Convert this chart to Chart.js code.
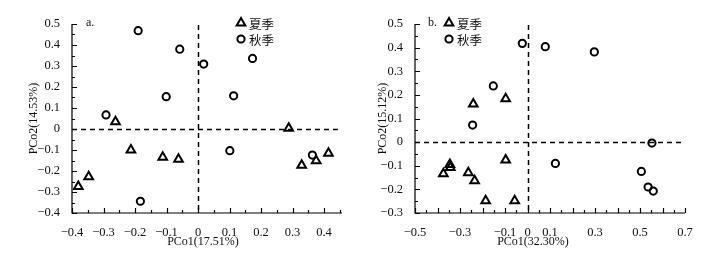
<!DOCTYPE html>
<html>
<head>
<meta charset="utf-8">
<script src="https://cdn.jsdelivr.net/npm/chart.js@4.4.0/dist/chart.umd.min.js"></script>
<style>
  body { margin: 0; background: #fff; }
  #wrap { position: relative; width: 727px; height: 266px; }
  canvas { position: absolute; top: 0; }
</style>
</head>
<body>
<div id="wrap">
  <canvas id="chartA" width="363" height="266" style="left:0"></canvas>
  <canvas id="chartB" width="364" height="266" style="left:363px"></canvas>
</div>
<script>
// series names (legend)
const seriesNames = ['夏季', '秋季'];

// panel a: PCo1(17.51%) vs PCo2(14.53%)
const aSummerX = [-0.380, -0.347, -0.262, -0.213, -0.112, -0.062, 0.288, 0.329, 0.375, 0.414];
const aSummerY = [-0.274, -0.227, 0.035, -0.100, -0.135, -0.144, 0.003, -0.173, -0.151, -0.116];
const aAutumnX = [-0.292, -0.190, -0.183, -0.101, -0.058, 0.018, 0.101, 0.113, 0.173, 0.363];
const aAutumnY = [0.067, 0.468, -0.344, 0.154, 0.380, 0.309, -0.103, 0.158, 0.336, -0.124];
const aTicksX = [-0.4, -0.3, -0.2, -0.1, 0, 0.1, 0.2, 0.3, 0.4];
const aTicksY = [-0.4, -0.3, -0.2, -0.1, 0, 0.1, 0.2, 0.3, 0.4, 0.5];

// panel b: PCo1(32.30%) vs PCo2(15.12%)
const bSummerX = [-0.374, -0.345, -0.343, -0.263, -0.241, -0.235, -0.186, -0.097, -0.097, -0.057];
const bSummerY = [-0.134, -0.095, -0.107, -0.130, 0.161, -0.163, -0.248, 0.184, -0.076, -0.248];
const bAutumnX = [-0.244, -0.152, -0.023, 0.079, 0.124, 0.297, 0.506, 0.536, 0.553, 0.559];
const bAutumnY = [0.072, 0.238, 0.418, 0.404, -0.090, 0.382, -0.124, -0.190, -0.004, -0.207];
const bTicksX = [-0.5, -0.3, -0.1, 0, 0.1, 0.3, 0.5, 0.7];
const bTicksY = [-0.3, -0.2, -0.1, 0, 0.1, 0.2, 0.3, 0.4, 0.5];

const serif = 'Liberation Serif, "Times New Roman", serif';

function fmt(v) {
    if (Math.abs(v) < 1e-9) return '0';
    return (v < 0 ? '\u2212' : '') + Math.abs(v).toFixed(1);
}

function toPoints(xs, ys) {
    return xs.map((x, i) => ({ x: x, y: ys[i] }));
}

// draws the inward ticks, axes, dashed zero lines, titles and legend
const panelDeco = {
    id: 'panelDeco',
    beforeDatasetsDraw(chart, args, o) {
        const { ctx, chartArea: a, scales: { x, y } } = chart;
        const x0 = Math.round(x.getPixelForValue(0)) + 0.5;
        const y0 = Math.round(y.getPixelForValue(0)) + 0.5;
        ctx.save();
        ctx.strokeStyle = '#000';
        ctx.lineWidth = 1.5;
        ctx.setLineDash([5, 4]);
        ctx.beginPath();
        ctx.moveTo(x0, a.top + 1);
        ctx.lineTo(x0, a.bottom);
        ctx.moveTo(a.left, y0);
        ctx.lineTo(a.right, y0);
        ctx.stroke();
        ctx.restore();
    },
    afterDraw(chart, args, o) {
        const { ctx, chartArea: a, scales: { x, y } } = chart;
        ctx.save();
        ctx.strokeStyle = '#000';
        ctx.lineWidth = 1.2;
        ctx.beginPath();
        ctx.moveTo(a.left, a.top);
        ctx.lineTo(a.left, a.bottom);
        ctx.lineTo(a.right, a.bottom);

        // major ticks every 0.1, minor every 0.05
        for (let k = Math.ceil(x.min * 20 - 1e-6); k <= x.max * 20 + 1e-6; k++) {
            const px = Math.round(x.getPixelForValue(k / 20)) + 0.5;
            const len = k % 2 === 0 ? 5 : 3;
            ctx.moveTo(px, a.bottom);
            ctx.lineTo(px, a.bottom - len);
        }
        for (let k = Math.ceil(y.min * 20 - 1e-6); k <= y.max * 20 + 1e-6; k++) {
            const py = Math.round(y.getPixelForValue(k / 20)) + 0.5;
            const len = k % 2 === 0 ? 5 : 3;
            ctx.moveTo(a.left, py);
            ctx.lineTo(a.left + len, py);
        }
        ctx.stroke();

        // axis titles
        ctx.fillStyle = '#111';
        ctx.font = '12px ' + serif;
        ctx.textAlign = 'center';
        ctx.textBaseline = 'middle';
        ctx.fillText(o.xTitle, o.xTitleX, 242);
        ctx.save();
        ctx.translate(o.yTitleX, (a.top + a.bottom) / 2);
        ctx.rotate(-Math.PI / 2);
        ctx.fillText(o.yTitle, 0, 0);
        ctx.restore();

        // panel tag
        ctx.textAlign = 'left';
        ctx.fillText(o.tag, o.tagX, 23);

        // legend
        chart.data.datasets.forEach((ds, i) => {
            const ly = 23 + i * 16;
            ctx.strokeStyle = '#000';
            ctx.fillStyle = 'rgba(0,0,0,0)';
            ctx.lineWidth = 2;
            Chart.helpers.drawPoint(ctx, {
                pointStyle: ds.pointStyle,
                radius: ds.pointRadius,
                borderWidth: 2,
                rotation: 0
            }, o.legendX, ly);
            ctx.fillStyle = '#111';
            ctx.font = '12.5px "Noto Sans CJK SC", sans-serif';
            ctx.fillText(ds.label, o.legendX + 8, ly + 1);
        });
        ctx.restore();
    }
};

function makeChart(id, cfg) {
    const tickFont = { family: serif, size: 12.5 };
    return new Chart(document.getElementById(id), {
        type: 'scatter',
        data: {
            datasets: [{
                label: seriesNames[0],
                data: toPoints(cfg.summerX, cfg.summerY),
                pointStyle: 'triangle',
                pointRadius: 5,
                pointBorderWidth: 2,
                borderColor: '#000',
                backgroundColor: 'rgba(0,0,0,0)'
            }, {
                label: seriesNames[1],
                data: toPoints(cfg.autumnX, cfg.autumnY),
                pointStyle: 'circle',
                pointRadius: 3.6,
                pointBorderWidth: 2,
                borderColor: '#000',
                backgroundColor: 'rgba(0,0,0,0)'
            }]
        },
        options: {
            responsive: false,
            animation: false,
            events: [],
            layout: { padding: { top: 24, right: cfg.padRight, bottom: 0, left: 0 } },
            plugins: {
                legend: { display: false },
                tooltip: { enabled: false },
                panelDeco: cfg.deco
            },
            scales: {
                x: {
                    type: 'linear',
                    min: cfg.xMin,
                    max: cfg.xMax,
                    grid: { display: false },
                    border: { display: false },
                    afterFit: s => { s.height = 53; },
                    afterBuildTicks: s => { s.ticks = cfg.xTicks.map(v => ({ value: v })); },
                    ticks: { callback: v => fmt(v), font: tickFont, color: '#111', padding: 4, maxRotation: 0, autoSkip: false }
                },
                y: {
                    type: 'linear',
                    min: cfg.yMin,
                    max: cfg.yMax,
                    grid: { display: false },
                    border: { display: false },
                    afterFit: s => { s.width = cfg.yWidth; },
                    afterBuildTicks: s => { s.ticks = cfg.yTicks.map(v => ({ value: v })); },
                    ticks: { callback: v => fmt(v), font: tickFont, color: '#111', padding: 4, autoSkip: false }
                }
            }
        },
        plugins: [panelDeco]
    });
}

makeChart('chartA', {
    summerX: aSummerX, summerY: aSummerY, autumnX: aAutumnX, autumnY: aAutumnY,
    xTicks: aTicksX, yTicks: aTicksY,
    xMin: -0.4, xMax: 0.457, yMin: -0.4, yMax: 0.5,
    yWidth: 72, padRight: 21,
    deco: { xTitle: 'PCo1(17.51%)', yTitle: 'PCo2(14.53%)', xTitleX: 203, yTitleX: 34, tag: 'a.', tagX: 86, legendX: 241 }
});

makeChart('chartB', {
    summerX: bSummerX, summerY: bSummerY, autumnX: bAutumnX, autumnY: bAutumnY,
    xTicks: bTicksX, yTicks: bTicksY,
    xMin: -0.5, xMax: 0.7, yMin: -0.3, yMax: 0.5,
    yWidth: 52, padRight: 42,
    deco: { xTitle: 'PCo1(32.30%)', yTitle: 'PCo2(15.12%)', xTitleX: 170, yTitleX: 20, tag: 'b.', tagX: 65, legendX: 86 }
});
</script>
</body>
</html>
